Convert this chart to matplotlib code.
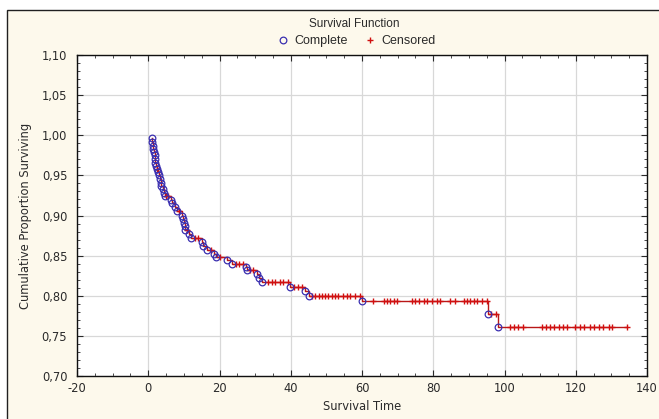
import matplotlib
matplotlib.use("Agg")
from matplotlib import pyplot as plt
from matplotlib.patches import Rectangle
from matplotlib.ticker import MultipleLocator, FuncFormatter

plt.rcParams['font.family'] = ['DejaVu Sans']
plt.rcParams['axes.unicode_minus'] = False

# complete (event) observations: time, cumulative proportion surviving
complete_t = [1.0, 1.0, 1.2, 1.3, 1.6, 1.8, 2.0, 2.0, 2.2, 2.4, 2.7, 2.9, 3.2, 3.5,
              3.7, 4.0, 4.3, 4.6, 6.5, 6.8, 7.5, 8.0, 9.5, 9.7, 10.0, 10.2, 10.4,
              11.5, 12.0, 15.0, 15.3, 16.5, 18.5, 19.0, 22.0, 23.5, 27.5, 27.8,
              30.5, 31.0, 31.8, 39.9, 44.0, 45.0, 60.0, 95.3, 98.3]
complete_s = [0.996, 0.991, 0.987, 0.983, 0.979, 0.975, 0.970, 0.966, 0.962, 0.958,
              0.954, 0.950, 0.945, 0.941, 0.937, 0.933, 0.928, 0.924, 0.919, 0.915,
              0.910, 0.905, 0.900, 0.896, 0.891, 0.887, 0.882, 0.877, 0.872, 0.867,
              0.862, 0.857, 0.852, 0.848, 0.844, 0.840, 0.836, 0.832, 0.827, 0.822,
              0.817, 0.811, 0.806, 0.800, 0.793, 0.777, 0.761]

# censored observations
censored_t = [2.5, 5.0, 5.6, 8.5, 11.0, 13.0, 14.0, 17.5, 20.0,
              24.5, 25.5, 26.5, 28.5, 29.5,
              33.7, 34.7, 35.6, 37.0, 37.9, 39.3, 40.8, 42.0, 43.2,
              45.9, 46.9, 47.8, 48.8, 49.7, 50.5, 51.5, 52.5, 53.3, 54.7, 55.8, 56.7, 58.1, 59.5,
              63.2, 66.1, 67.0, 67.9, 68.9, 69.8, 74.0, 74.9, 75.9, 77.3, 78.2, 79.6, 81.0,
              82.0, 84.8, 86.2, 88.5, 89.5, 90.4, 91.3, 92.3, 93.7, 95.0,
              96.2, 97.6,
              101.6, 102.7, 103.9, 105.2, 110.5, 111.6, 112.8, 114.0, 115.2, 116.4, 117.5,
              119.9, 121.1, 122.2, 124.1, 125.2, 126.4, 127.6, 129.2, 130.2, 134.4]
censored_s = [0.958, 0.924, 0.924, 0.905, 0.882, 0.872, 0.872, 0.857, 0.848,
              0.840, 0.840, 0.840, 0.832, 0.832,
              0.817, 0.817, 0.817, 0.817, 0.817, 0.817, 0.811, 0.811, 0.811,
              0.800, 0.800, 0.800, 0.800, 0.800, 0.800, 0.800, 0.800, 0.800, 0.800, 0.800, 0.800, 0.800, 0.800,
              0.793, 0.793, 0.793, 0.793, 0.793, 0.793, 0.793, 0.793, 0.793, 0.793, 0.793, 0.793, 0.793,
              0.793, 0.793, 0.793, 0.793, 0.793, 0.793, 0.793, 0.793, 0.793, 0.793,
              0.777, 0.777,
              0.761, 0.761, 0.761, 0.761, 0.761, 0.761, 0.761, 0.761, 0.761, 0.761, 0.761,
              0.761, 0.761, 0.761, 0.761, 0.761, 0.761, 0.761, 0.761, 0.761, 0.761]

cream = '#fdf9ec'
txt = '#2a2a2a'
fig = plt.figure(figsize=(6.59, 4.19), dpi=100, facecolor='white')
fig.patches.append(Rectangle((7 / 659, -0.02), 1.0, 1 - 10 / 419 + 0.02,
                             transform=fig.transFigure, facecolor=cream,
                             edgecolor='#202020', linewidth=1.0, zorder=-10))

ax = fig.add_axes([77 / 659, 1 - 376 / 419, 570 / 659, 321 / 419])
ax.set_facecolor('white')

# step curve
line_t = complete_t + [censored_t[-1]]
line_s = complete_s + [complete_s[-1]]
ax.step(line_t, line_s, where='post', color='#b81818', linewidth=1.0, zorder=2)

ax.plot(censored_t, censored_s, linestyle='none', marker='+', color='#d01010',
        markersize=5, markeredgewidth=1.0, label='Censored', zorder=3)
ax.plot(complete_t, complete_s, linestyle='none', marker='o', markerfacecolor='none',
        markeredgecolor='#3a2fb0', markersize=4.8, markeredgewidth=0.9,
        label='Complete', zorder=4)

ax.set_xlim(-20, 140)
ax.set_ylim(0.70, 1.10)
ax.xaxis.set_major_locator(MultipleLocator(20))
ax.xaxis.set_minor_locator(MultipleLocator(5))
ax.yaxis.set_major_locator(MultipleLocator(0.05))
ax.yaxis.set_minor_locator(MultipleLocator(0.01))
ax.yaxis.set_major_formatter(FuncFormatter(lambda v, p: ('%.2f' % v).replace('.', ',')))

ax.grid(True, which='major', color='#d8d8d8', linewidth=0.9)
ax.set_axisbelow(True)
ax.tick_params(which='both', direction='in', top=True, right=True, labelsize=8.3,
               colors=txt)
ax.tick_params(axis='x', which='major', pad=4)
ax.tick_params(axis='y', which='major', pad=7)
ax.tick_params(which='major', length=4, width=0.8)
ax.tick_params(which='minor', length=2, width=0.6)
for s in ax.spines.values():
    s.set_color('#101010')
    s.set_linewidth(1.0)

ax.set_xlabel('Survival Time', fontsize=8.3, color=txt, labelpad=4)
ax.set_ylabel('Cumulative Proportion Surviving', fontsize=8.3, color=txt, labelpad=7)

fig.text(0.538, 1 - 24 / 419, 'Survival Function', ha='center', va='center',
         fontsize=8.5, color=txt, family='Liberation Sans')
handles, labels = ax.get_legend_handles_labels()
fig.legend(handles[::-1], labels[::-1], loc='center', bbox_to_anchor=(0.54, 1 - 41 / 419),
           ncol=2, frameon=False, prop={'family': 'Liberation Sans', 'size': 9},
           handletextpad=0.3, columnspacing=1.2, handlelength=1.2, labelcolor=txt)

fig.savefig('out.png', dpi=100, facecolor=fig.get_facecolor())
